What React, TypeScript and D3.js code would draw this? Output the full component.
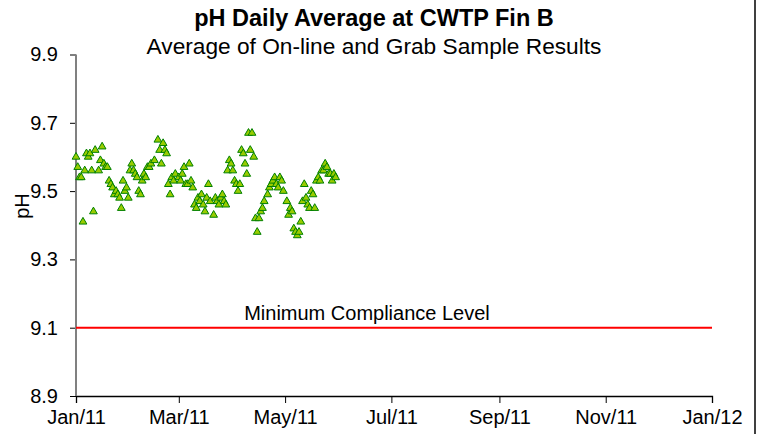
import React, { useRef, useEffect } from "react";
import * as d3 from "d3";

// daily average pH at CWTP Fin B, [day of month, pH], one list per month of 2011
const janReadings: [number, number][] = [
  [1, 9.6], [2, 9.57], [3, 9.54], [4, 9.54], [5, 9.41], [6, 9.56], [7, 9.61], [8, 9.6],
  [9, 9.61], [10, 9.56], [11, 9.44], [12, 9.62], [14, 9.56], [15, 9.59], [16, 9.63],
  [17, 9.58], [18, 9.57], [19, 9.57], [20, 9.53], [21, 9.52], [22, 9.51], [23, 9.49],
  [24, 9.5], [25, 9.49], [26, 9.48], [27, 9.45], [28, 9.53], [29, 9.5], [30, 9.51], [31, 9.48],
];
const febReadings: [number, number][] = [
  [1, 9.56], [2, 9.58], [3, 9.56], [4, 9.55], [5, 9.54], [6, 9.5], [7, 9.49], [8, 9.53],
  [9, 9.55], [10, 9.54], [11, 9.57], [12, 9.57], [13, 9.58], [15, 9.59], [17, 9.65],
  [18, 9.62], [19, 9.58], [20, 9.64], [21, 9.62], [22, 9.61], [23, 9.52], [24, 9.49],
  [25, 9.54], [26, 9.53], [27, 9.55],
];
const marReadings: [number, number][] = [
  [1, 9.54], [2, 9.53], [3, 9.55], [4, 9.57], [5, 9.52], [6, 9.52], [7, 9.58], [8, 9.53],
  [9, 9.51], [10, 9.46], [11, 9.45], [12, 9.48], [13, 9.47], [14, 9.49], [15, 9.46],
  [16, 9.44], [17, 9.48], [18, 9.52], [19, 9.47], [21, 9.43], [22, 9.48], [23, 9.47],
  [24, 9.46], [25, 9.48], [26, 9.49], [27, 9.47], [28, 9.46], [29, 9.56], [30, 9.59], [31, 9.58],
];
const aprReadings: [number, number][] = [
  [1, 9.56], [2, 9.53], [3, 9.52], [4, 9.5], [5, 9.52], [6, 9.62], [7, 9.61], [8, 9.58],
  [9, 9.55], [10, 9.67], [11, 9.62], [12, 9.67], [13, 9.6], [14, 9.42], [15, 9.38],
  [16, 9.42], [17, 9.44], [18, 9.45], [19, 9.47], [21, 9.49], [22, 9.51], [23, 9.52],
  [24, 9.53], [25, 9.54], [26, 9.52], [27, 9.51], [28, 9.54], [29, 9.53], [30, 9.5],
];
const mayReadings: [number, number][] = [
  [2, 9.47], [3, 9.43], [4, 9.45], [5, 9.44], [6, 9.39], [7, 9.38], [8, 9.37], [9, 9.38],
  [10, 9.41], [11, 9.47], [12, 9.52], [13, 9.48], [14, 9.46], [15, 9.45], [16, 9.5],
  [17, 9.49], [18, 9.45], [19, 9.53], [20, 9.54], [21, 9.53], [22, 9.56], [23, 9.56],
  [24, 9.58], [25, 9.57], [26, 9.55], [27, 9.55], [28, 9.53], [29, 9.55], [30, 9.54],
];

const yTicks = [8.9, 9.1, 9.3, 9.5, 9.7, 9.9];
const complianceLevel = 9.1;
const complianceLabel = "Minimum Compliance Level";
const complianceLabelDate = new Date(2011, 5, 17);
const startDate = new Date(2011, 0, 1);
const endDate = new Date(2012, 0, 1);

const FONT = "'Liberation Sans', Arial, sans-serif";

const App = () => {
  const chartRef = useRef(null);

  useEffect(() => {
    const container = d3.select(chartRef.current);
    container.select("svg").remove();

    const width = 758;
    const height = 434;

    const svg = container
      .append("svg")
      .attr("width", width)
      .attr("height", height)
      .style("position", "absolute")
      .style("left", 0)
      .style("top", 0)
      .style("font-family", FONT);

    svg.append("rect").attr("width", width).attr("height", height).attr("fill", "#fff");

    // month index 0..4 -> readings
    const months = [janReadings, febReadings, marReadings, aprReadings, mayReadings];
    const points = months.flatMap((list, m) =>
      list.map(([day, ph]) => ({ date: new Date(2011, m, day), ph }))
    );

    const xScale = d3.scaleTime().domain([startDate, endDate]).range([76, 712]);
    const yScale = d3.scaleLinear().domain([8.9, 9.9]).range([396, 54.5]);

    // titles
    svg
      .append("text")
      .attr("x", 374)
      .attr("y", 26)
      .attr("text-anchor", "middle")
      .style("font-size", "23.5px")
      .style("font-weight", "bold")
      .text("pH Daily Average at CWTP Fin B");

    svg
      .append("text")
      .attr("x", 374)
      .attr("y", 54)
      .attr("text-anchor", "middle")
      .style("font-size", "22.7px")
      .text("Average of On-line and Grab Sample Results");

    // x axis
    const xAxis = d3
      .axisBottom(xScale)
      .ticks(d3.timeMonth.every(2))
      .tickFormat(d3.timeFormat("%b/%y") as any)
      .tickSize(7)
      .tickPadding(7);

    const gx = svg.append("g").attr("transform", `translate(0, ${yScale(8.9)})`).call(xAxis);
    gx.select(".domain").attr("stroke", "#000").attr("stroke-width", 1.3);
    gx.selectAll(".tick line").attr("stroke", "#000");
    gx.selectAll(".tick text").style("font-size", "20px").style("font-family", FONT).attr("fill", "#000");

    // y axis
    const yAxis = d3
      .axisLeft(yScale)
      .tickValues(yTicks)
      .tickFormat(d3.format(".1f"))
      .tickSize(6)
      .tickPadding(12);

    const gy = svg.append("g").attr("transform", `translate(${xScale(startDate)}, 0)`).call(yAxis);
    gy.select(".domain").remove();
    gy.selectAll(".tick line").attr("stroke", "#000");
    gy.selectAll(".tick text").style("font-size", "20px").style("font-family", FONT).attr("fill", "#000");
    gy.append("line")
      .attr("y1", yScale(9.9))
      .attr("y2", yScale(8.9))
      .attr("stroke", "#808080")
      .attr("stroke-width", 2);

    svg
      .append("text")
      .attr("transform", `translate(29, 206) rotate(-90)`)
      .attr("text-anchor", "middle")
      .style("font-size", "20px")
      .text("pH");

    // compliance line
    svg
      .append("line")
      .attr("x1", xScale(startDate))
      .attr("x2", xScale(endDate))
      .attr("y1", yScale(complianceLevel))
      .attr("y2", yScale(complianceLevel))
      .attr("stroke", "#ff0000")
      .attr("stroke-width", 2);

    svg
      .append("text")
      .attr("x", xScale(complianceLabelDate))
      .attr("y", yScale(complianceLevel) - 8)
      .attr("text-anchor", "middle")
      .style("font-size", "20px")
      .text(complianceLabel);

    // data points
    const triangle = d3.symbol().type(d3.symbolTriangle).size(26);
    svg
      .selectAll(".data-point")
      .data(points)
      .enter()
      .append("path")
      .attr("class", "data-point")
      .attr("d", triangle)
      .attr("transform", (d: any) => `translate(${xScale(d.date)}, ${yScale(d.ph)})`)
      .attr("fill", "#99cc00")
      .attr("stroke", "#008000")
      .attr("stroke-width", 1);

    // right edge of chart frame
    svg
      .append("line")
      .attr("x1", 755)
      .attr("x2", 755)
      .attr("y1", 0)
      .attr("y2", height)
      .attr("stroke", "#404040")
      .attr("stroke-width", 2);
  }, []);

  return <div ref={chartRef} />;
};

export default App;
